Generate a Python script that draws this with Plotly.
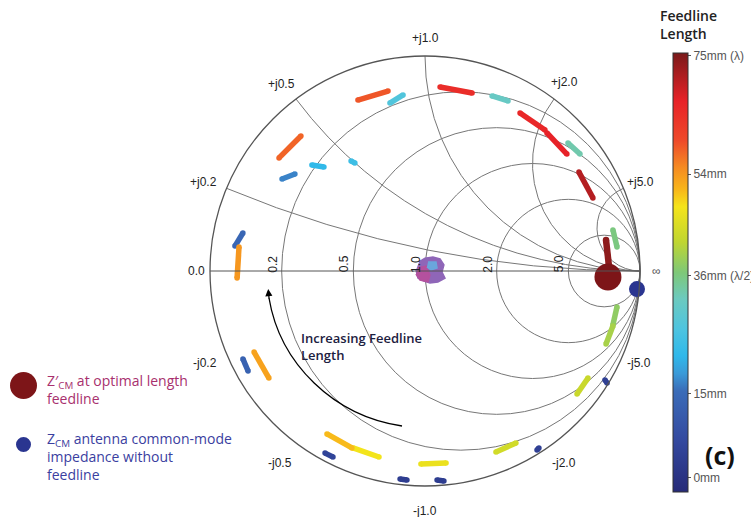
import numpy as np
import plotly.graph_objects as go
from plotly.colors import sample_colorscale

# ---------------- data (reflection-coefficient plane) ----------------
# each feedline segment: start and end reflection coefficient, feedline length (mm)
seg_len_mm = [59, 27, 65, 58, 22, 24, 17, 31, 66, 67, 33, 71, 36, 74, 38, 40, 43, 4, 44, 4,
              47, 3, 3, 48, 51, 5, 53, 13, 14, 54]
seg_g0_re = [-0.312, -0.163, 0.070, -0.679, -0.526, -0.344, -0.665, 0.312, 0.442, 0.567,
             0.665, 0.716, 0.874, 0.842, 0.893, 0.874, 0.758, 0.837, 0.330, 0.521,
             -0.019, 0.056, -0.116, -0.335, -0.456, -0.465, -0.795, -0.847, -0.884, -0.865]
seg_g0_im = [0.795, 0.781, 0.856, 0.526, 0.493, 0.512, 0.428, 0.814, 0.735, 0.642,
             0.595, 0.460, 0.191, 0.144, -0.167, -0.256, -0.498, -0.507, -0.842, -0.833,
             -0.898, -0.972, -0.967, -0.823, -0.758, -0.847, -0.377, -0.409, 0.116, 0.112]
seg_g1_re = [-0.172, -0.102, 0.219, -0.577, -0.470, -0.326, -0.605, 0.386, 0.558, 0.660,
             0.721, 0.781, 0.893, 0.856, 0.874, 0.842, 0.707, 0.847, 0.423, 0.530,
             0.098, 0.088, -0.084, -0.214, -0.340, -0.428, -0.726, -0.823, -0.847, -0.874]
seg_g1_im = [0.837, 0.819, 0.828, 0.628, 0.484, 0.502, 0.451, 0.791, 0.656, 0.544,
             0.544, 0.340, 0.112, 0.019, -0.251, -0.340, -0.572, -0.521, -0.800, -0.823,
             -0.893, -0.977, -0.972, -0.865, -0.823, -0.865, -0.498, -0.465, 0.177, -0.033]

# Z'cm at optimal feedline length and Zcm without feedline (reflection coefficient)
opt_g = (0.851, -0.028)
zcm_g = (0.986, -0.084)

# cluster of impedances near matched point (outline of the blob)
blob_purple_re = [-0.028, 0.000, 0.037, 0.070, 0.088, 0.079, 0.093, 0.060, 0.023, -0.005, -0.033, -0.042]
blob_purple_im = [0.042, 0.060, 0.065, 0.056, 0.028, -0.005, -0.033, -0.051, -0.056, -0.047, -0.033, 0.005]
blob_magenta_re = [-0.033, 0.005, 0.023, 0.014, -0.023, -0.042]
blob_magenta_im = [0.014, 0.023, -0.019, -0.051, -0.042, -0.014]
blob_blue_re = [0.014, 0.051, 0.056, 0.028, 0.009]
blob_blue_im = [0.042, 0.042, 0.014, 0.005, 0.019]

grid_vals = [0.2, 0.5, 1.0, 2.0, 5.0]
real_labels = ["0.2", "0.5", "1.0", "2.0", "5.0"]
imag_pos_labels = ["+j0.2", "+j0.5", "+j1.0", "+j2.0", "+j5.0"]
imag_neg_labels = ["-j0.2", "-j0.5", "-j1.0", "-j2.0", "-j5.0"]
cb_tickvals = [0, 15, 36, 54, 75]
cb_ticktext = ["0mm", "15mm", "36mm (\u03bb/2)", "54mm", "75mm (\u03bb)"]

# ---------------- styling ----------------
W, H = 751, 517
CX, CY, R = 425, 271, 215          # smith circle in pixels
CMIN, CMAX = -2.5, 75.5
cscale = [
    [0.00, "#262a78"], [0.12, "#344aa0"], [0.23, "#3a6cb8"], [0.27, "#3a9ad8"],
    [0.31, "#2fb8ea"], [0.37, "#4dc4e0"], [0.44, "#6ccabf"], [0.50, "#7ec878"],
    [0.57, "#c0d630"], [0.65, "#f5e41a"], [0.69, "#f8b51a"], [0.74, "#f58a22"],
    [0.80, "#ee4a2a"], [0.89, "#e82228"], [1.00, "#7a1a1a"],
]
TICKFONT = dict(family="Liberation Sans", size=12, color="#222")
# imaginary label offsets: (dx, distance from circle, xanchor)
imag_pos_off = [(-8, -3, "right"), (1, 6, "right"), (0, 9, "center"), (-5, 8, "left"), (2, -3, "left")]
imag_neg_off = [(-8, 0, "right"), (-2, 11, "right"), (0, 16, "center"), (-4, 11, "left"), (2, 0, "left")]


def g2z(gr, gi):
    g = np.asarray(gr) + 1j * np.asarray(gi)
    z = (1 + g) / (1 - g)
    return z.real, z.imag


def px(x):
    return x / W


def py(y):
    return (H - y) / H


fig = go.Figure()

for i, v in enumerate(seg_len_mm):
    col = sample_colorscale(cscale, [(v - CMIN) / (CMAX - CMIN)])[0]
    zr, zi = g2z([seg_g0_re[i], seg_g1_re[i]], [seg_g0_im[i], seg_g1_im[i]])
    w = 6.5 if v == 74 else 5.5
    fig.add_trace(go.Scattersmith(real=zr, imag=zi, mode="lines+markers",
                                  line=dict(color=col, width=w),
                                  marker=dict(color=col, size=w, line=dict(width=0)),
                                  showlegend=False, hoverinfo="skip"))

# blob
for re_, im_, col in [(blob_purple_re, blob_purple_im, "#8f66b8"),
                      (blob_magenta_re, blob_magenta_im, "#b4519e"),
                      (blob_blue_re, blob_blue_im, "#6aa6dc")]:
    zr, zi = g2z(re_, im_)
    fig.add_trace(go.Scattersmith(real=zr, imag=zi, mode="lines", fill="toself",
                                  fillcolor=col, line=dict(color=col, width=1.5),
                                  showlegend=False, hoverinfo="skip"))

# colour bar carrier
zr, zi = g2z([seg_g1_re[0]], [seg_g1_im[0]])
fig.add_trace(go.Scattersmith(real=zr, imag=zi, mode="markers",
                              marker=dict(size=0.1, color=[seg_len_mm[0]], cmin=CMIN, cmax=CMAX,
                                          colorscale=cscale, showscale=True,
                                          colorbar=dict(x=px(673), xanchor="left", y=py(492),
                                                        yanchor="bottom", len=439 / H, lenmode="fraction",
                                                        xpad=0, ypad=0,
                                                        thickness=15, outlinewidth=1, outlinecolor="#333",
                                                        tickvals=cb_tickvals, ticktext=cb_ticktext,
                                                        ticks="outside", ticklen=3, tickcolor="#555",
                                                        tickfont=dict(family="Liberation Sans", size=12, color="#555"))),
                              showlegend=False, hoverinfo="skip"))

# markers
zr, zi = g2z([opt_g[0]], [opt_g[1]])
fig.add_trace(go.Scattersmith(real=zr, imag=zi, mode="markers",
                              marker=dict(size=27, color="#7d1518"), showlegend=False))
zr, zi = g2z([zcm_g[0]], [zcm_g[1]])
fig.add_trace(go.Scattersmith(real=zr, imag=zi, mode="markers",
                              marker=dict(size=16, color="#2a3590"), showlegend=False))

fig.update_layout(
    width=W, height=H, margin=dict(l=0, r=0, t=0, b=0, autoexpand=False),
    paper_bgcolor="white", plot_bgcolor="white",
    font=dict(family="Liberation Sans", size=12, color="#222"),
    smith=dict(
        domain=dict(x=[px(CX - R), px(CX + R)], y=[py(CY + R), py(CY - R)]),
        bgcolor="white",
        realaxis=dict(tickvals=grid_vals, gridcolor="#777", gridwidth=0.8, linecolor="#555",
                      showticklabels=False),
        imaginaryaxis=dict(tickvals=grid_vals, gridcolor="#777", gridwidth=0.8, linecolor="#555",
                           linewidth=1.3, showticklabels=False),
    ),
)

# ---- smith tick labels ----
for r, lab in zip(grid_vals, real_labels):
    xg = (r - 1) / (r + 1)
    fig.add_annotation(xref="paper", yref="paper", x=px(CX + R * xg - 9), y=py(264),
                       text=lab, textangle=-90, showarrow=False, font=TICKFONT,
                       xanchor="center", yanchor="middle")
fig.add_annotation(xref="paper", yref="paper", x=px(CX - R - 3), y=py(CY), text="0.0",
                   showarrow=False, font=TICKFONT, xanchor="right", yanchor="middle")
fig.add_annotation(xref="paper", yref="paper", x=px(656), y=py(CY), text="\u221e",
                   showarrow=False, font=dict(family="Liberation Sans", size=12, color="#555"),
                   xanchor="center", yanchor="middle")

for x, lp, ln, po, no in zip(grid_vals, imag_pos_labels, imag_neg_labels, imag_pos_off, imag_neg_off):
    th = np.pi - 2 * np.arctan(x)
    ppx, ppy = CX + R * np.cos(th), CY - R * np.sin(th)
    npy = CY + R * np.sin(th)
    fig.add_annotation(xref="paper", yref="paper", x=px(ppx + po[0]), y=py(ppy - po[1]), text=lp,
                       showarrow=False, font=TICKFONT, xanchor=po[2], yanchor="bottom")
    fig.add_annotation(xref="paper", yref="paper", x=px(ppx + no[0]), y=py(npy + no[1]), text=ln,
                       showarrow=False, font=TICKFONT, xanchor=no[2], yanchor="top")

# legend on the left
fig.add_shape(type="circle", xref="paper", yref="paper",
              x0=px(10), x1=px(37), y0=py(399), y1=py(372),
              fillcolor="#7d1518", line=dict(width=0))
fig.add_shape(type="circle", xref="paper", yref="paper",
              x0=px(16), x1=px(31), y0=py(452), y1=py(437),
              fillcolor="#2a3590", line=dict(width=0))
fig.add_annotation(xref="paper", yref="paper", x=px(45), y=py(369), xanchor="left", yanchor="top",
                   showarrow=False, align="left",
                   text="Z\u2032<sub>CM</sub> at optimal length<br>feedline",
                   font=dict(family="Open Sans", size=14, color="#a8306e"))
fig.add_annotation(xref="paper", yref="paper", x=px(45), y=py(427), xanchor="left", yanchor="top",
                   showarrow=False, align="left",
                   text="Z<sub>CM</sub> antenna common-mode<br>impedance without<br>feedline",
                   font=dict(family="Open Sans", size=14, color="#3a3ea0"))


# increasing feedline length arrow
def P(x, y):
    return f"{px(x):.5f},{py(y):.5f}"


fig.add_shape(type="path", xref="paper", yref="paper",
              path=f"M {P(402, 426)} C {P(334, 416)} {P(280, 364)} {P(269, 298)}",
              line=dict(color="black", width=1.3))
fig.add_annotation(xref="paper", yref="paper", x=px(268.2), y=py(289),
                   ax=1, ay=11, axref="pixel", ayref="pixel",
                   showarrow=True, arrowhead=2, arrowsize=1.1, arrowwidth=1.3, arrowcolor="black",
                   standoff=0, text="")
fig.add_annotation(xref="paper", yref="paper", x=px(299), y=py(327), xanchor="left", yanchor="top",
                   showarrow=False, align="left", text="Increasing Feedline<br>Length",
                   font=dict(family="Open Sans", size=13, color="#1c2040", weight=600))

# colour bar title and panel label
fig.add_annotation(xref="paper", yref="paper", x=px(658), y=py(4), xanchor="left", yanchor="top",
                   showarrow=False, align="left", text="Feedline<br>Length",
                   font=dict(family="Open Sans", size=14, color="#222", weight=600))
fig.add_annotation(xref="paper", yref="paper", x=px(720), y=py(455), xanchor="center", yanchor="middle",
                   showarrow=False, text="(c)",
                   font=dict(family="Open Sans", size=25, color="#111", weight=700))

fig.write_html("out.html", config={"displayModeBar": False},
               post_script="document.body.style.margin='0px';")
